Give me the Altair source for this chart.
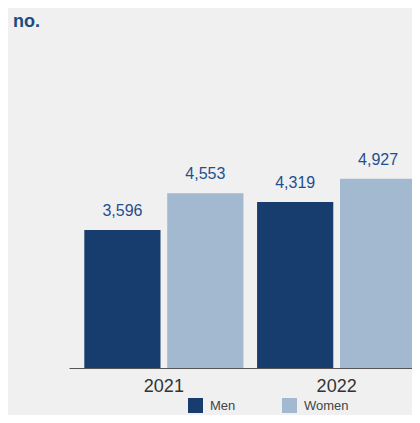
import altair as alt
import pandas as pd

years = ["2021", "2021", "2022", "2022"]
sexes = ["Men", "Women", "Men", "Women"]
values = [3596, 4553, 4319, 4927]

df = pd.DataFrame({"year": years, "sex": sexes, "value": values})
df["label"] = df["value"].map(lambda v: f"{v:,}")

FONT = "Liberation Sans"

x = alt.X("year:N", title=None,
          scale=alt.Scale(range=[0, 362.5], paddingInner=0.079, paddingOuter=0.0886),
          axis=alt.Axis(labelAngle=0, labelFontSize=18, labelColor="#333333",
                        labelFont=FONT, labelPadding=9.5, ticks=False,
                        domainColor="#555555", domainWidth=1))
xo = alt.XOffset("sex:N", scale=alt.Scale(paddingInner=0.081, paddingOuter=0))
y = alt.Y("value:Q", scale=alt.Scale(domain=[0, 8540], nice=False), axis=None)

bars = alt.Chart(df).mark_bar().encode(
    x=x, xOffset=xo, y=y,
    color=alt.Color("sex:N", title=None,
                    scale=alt.Scale(domain=["Men", "Women"], range=["#173c6e", "#a2b9cf"]),
                    legend=alt.Legend(orient="none", direction="horizontal", columns=2,
                                      legendX=119, legendY=358,
                                      symbolType="square", symbolSize=225,
                                      symbolStrokeWidth=0, labelFontSize=13,
                                      labelFont=FONT, labelColor="#444444",
                                      labelOffset=7, columnPadding=46))
)

text = alt.Chart(df).mark_text(baseline="alphabetic", dy=-14, fontSize=16, font=FONT,
                               color="#1f4f8f").encode(
    x=x, xOffset=xo, y=y, text="label:N"
)

chart = (bars + text).properties(
    width=343, height=328,
    autosize=alt.AutoSizeParams(type="none"),
    padding={"left": 61, "top": 32, "right": 0, "bottom": 47},
    title=alt.TitleParams("no.", anchor="start", fontSize=18, font=FONT,
                          fontWeight="bold", color="#1a4a80", dx=-56, offset=9),
).configure(background="#f0f0f0").configure_view(stroke=None)

chart.save("out.html", embed_options={"renderer": "svg", "actions": False})
